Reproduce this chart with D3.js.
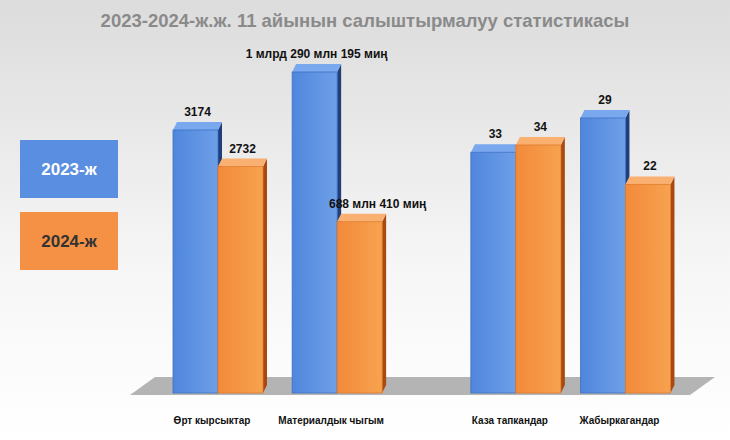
<!DOCTYPE html>
<html><head><meta charset="utf-8">
<script src="https://cdn.jsdelivr.net/npm/d3@7"></script>
<style>body{margin:0;}svg{display:block;font-family:"Liberation Sans",Arial,sans-serif;}</style>
</head><body><svg id="c" width="730" height="440"></svg>
<script>
const categories = ["Өрт кырсыктар","Материалдык чыгым","Каза тапкандар","Жабыркагандар"];
const seriesNames = ["2023-ж","2024-ж"];
const values2023 = [3174, 1290195000, 33, 29];
const values2024 = [2732, 688410000, 34, 22];
const labels2023 = ["3174","1 млрд 290 млн 195 миң","33","29"];
const labels2024 = ["2732","688 млн 410 миң","34","22"];
const slots = [0, 1, 2.5, 3.42];
const groupTop = [263, 321, 248, 275]; // pixel height of each group's tallest bar

const svg = d3.select("#c");
const defs = svg.append("defs");
const bg = defs.append("linearGradient").attr("id","bg").attr("x1",0).attr("y1",0).attr("x2",0).attr("y2",1);
bg.append("stop").attr("offset",0).attr("stop-color","#dcdcdc");
bg.append("stop").attr("offset",0.6).attr("stop-color","#f6f6f6");
bg.append("stop").attr("offset",1).attr("stop-color","#ffffff");
svg.append("rect").attr("width",730).attr("height",440).attr("fill","url(#bg)");
function grad(id,a,b){const g=defs.append("linearGradient").attr("id",id).attr("x1",0).attr("x2",1);
 g.append("stop").attr("offset",0).attr("stop-color",a);g.append("stop").attr("offset",1).attr("stop-color",b);}
grad("gb","#4f86dd","#6e9fe8"); grad("go","#f28a3a","#f7a24f");
const colors=["url(#gb)","url(#go)"], sides=["#1f3f7a","#a84a10"];

svg.append("text").attr("x",365).attr("y",27).attr("text-anchor","middle").attr("font-size",18.5).attr("font-weight","bold").attr("fill","#8a8a8a").text("2023-2024-ж.ж. 11 айынын  салыштырмалуу статистикасы");

const floor = 393;
svg.append("polygon").attr("points","155,377 715,377 690,395 130,395").attr("fill","#b4b4b4");

const x = d3.scaleLinear().domain([0,3.5]).range([218,635]);
const bw = 45, depth = 8;
categories.forEach((c,i)=>{
  const y = d3.scaleLinear().domain([0, Math.max(values2023[i],values2024[i])]).range([floor, floor-groupTop[i]]);
  [values2023[i],values2024[i]].forEach((v,s)=>{
    const x0 = s===0 ? x(slots[i])-bw : x(slots[i]);
    const yt = y(v);
    svg.append("polygon").attr("points",`${x0+bw},${yt} ${x0+bw+depth*0.5},${yt-depth} ${x0+bw+depth*0.5},${floor-depth} ${x0+bw},${floor}`).attr("fill",sides[s]);
    svg.append("polygon").attr("points",`${x0},${yt} ${x0+depth*0.5},${yt-depth} ${x0+bw+depth*0.5},${yt-depth} ${x0+bw},${yt}`).attr("fill",s?"#f9b070":"#7aa8ee");
    svg.append("rect").attr("x",x0).attr("y",yt).attr("width",bw).attr("height",floor-yt).attr("fill",colors[s]).attr("stroke",s?"#e07a2a":"#3d70c4").attr("stroke-width",0.8);
    const lbl = s===0?labels2023[i]:labels2024[i];
    const dx = (i===1 && s===1) ? 18 : 2;
    svg.append("text").attr("x",x0+bw/2+dx).attr("y",yt-14).attr("text-anchor","middle").attr("font-size",12).attr("font-weight","bold").attr("fill","#111").text(lbl);
  });
  svg.append("text").attr("x",x(slots[i])-6).attr("y",424).attr("text-anchor","middle").attr("font-size",10).attr("font-weight","bold").attr("fill","#111").text(c);
});

seriesNames.forEach((n,s)=>{
  const ly = s?212:140;
  svg.append("rect").attr("x",20).attr("y",ly).attr("width",98).attr("height",58).attr("fill",s?"#f49145":"#5a8ee0");
  svg.append("text").attr("x",69).attr("y",ly+35).attr("text-anchor","middle").attr("font-size",17).attr("font-weight","bold").attr("fill",s?"#333":"#fff").text(n);
});
</script></body></html>
